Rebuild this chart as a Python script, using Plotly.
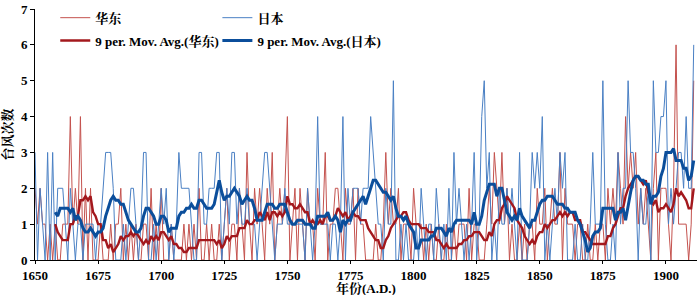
import plotly.graph_objects as go
import pandas as pd

years = list(range(1650, 1912))

# 华东 annual typhoon counts
huadong = (
    [2, 1, 2, 1, 1, 0, 1, 0, 1, 0] +
    [0, 1, 1, 1, 4, 1, 2, 1, 4, 0] +
    [2, 0, 2, 0, 0, 0, 1, 0, 0, 0] +
    [1, 0, 1, 1, 2, 0, 1, 0, 1, 0] +
    [1, 0, 0, 1, 1, 0, 2, 0, 1, 0] +
    [2, 0, 0, 0, 1, 0, 0, 0, 0, 1] +
    [0, 1, 0, 1, 0, 2, 0, 0, 1, 0] +
    [1, 0, 0, 1, 0, 1, 2, 0, 1, 1] +
    [0, 2, 1, 0, 3, 1, 0, 2, 1, 2] +
    [1, 0, 2, 1, 3, 0, 1, 2, 1, 2] +
    [4, 0, 1, 2, 0, 2, 1, 0, 2, 1] +
    [1, 0, 2, 1, 1, 3, 0, 1, 1, 2] +
    [2, 1, 0, 2, 1, 1, 2, 0, 2, 1] +
    [1, 0, 0, 0, 0, 1, 0, 0, 1, 3] +
    [1, 2, 1, 1, 2, 0, 1, 1, 1, 0] +
    [2, 1, 1, 1, 0, 1, 0, 1, 0, 0] +
    [1, 0, 0, 1, 0, 0, 1, 0, 1, 1] +
    [1, 0, 2, 0, 1, 1, 0, 0, 0, 1] +
    [2, 1, 3, 2, 1, 3, 1, 2, 0, 1] +
    [0, 0, 1, 0, 1, 0, 1, 1, 0, 2] +
    [1, 1, 2, 0, 1, 2, 1, 1, 3, 0] +
    [2, 1, 1, 1, 0, 1, 1, 0, 0, 1] +
    [0, 0, 1, 0, 1, 1, 0, 2, 1, 2] +
    [1, 3, 2, 1, 4, 2, 3, 2, 3, 1] +
    [2, 1, 2, 1, 0, 2, 3, 0, 2, 2] +
    [2, 1, 0, 2, 6, 1, 1, 1, 1, 0, 1, 5]
)

# 日本 annual typhoon counts
riben = (
    [3, 0, 2, 1, 0, 3, 0, 3, 0, 2] +
    [2, 2, 1, 0, 2, 1, 0, 1, 1, 0] +
    [1, 1, 1, 1, 0, 1, 1, 2, 3, 3] +
    [3, 2, 0, 0, 0, 1, 0, 1, 2, 2] +
    [1, 0, 1, 3, 3, 0, 0, 1, 0, 1] +
    [2, 1, 2, 0, 1, 0, 1, 3, 2, 2] +
    [2, 2, 1, 0, 0, 3, 3, 1, 1, 2] +
    [2, 2, 3, 3, 0, 1, 2, 1, 3, 3] +
    [1, 2, 1, 1, 2, 1, 1, 1, 0, 1] +
    [2, 3, 3, 2, 1, 0, 1, 1, 1, 2] +
    [1, 1, 1, 1, 1, 1, 1, 0, 2, 1] +
    [0, 1, 4, 1, 1, 1, 1, 0, 1, 1] +
    [0, 1, 4, 0, 2, 1, 2, 2, 2, 1] +
    [2, 2, 2, 4, 3, 2, 1, 1, 0, 2] +
    [1, 1, 5, 0, 0, 1, 0, 1, 0, 0] +
    [0, 1, 0, 2, 1, 0, 1, 1, 0, 2] +
    [1, 0, 1, 0, 2, 0, 3, 1, 2, 1] +
    [0, 1, 0, 1, 3, 0, 1, 4, 5, 2] +
    [3, 0, 1, 0, 2, 1, 1, 2, 1, 2] +
    [1, 0, 3, 0, 0, 0, 1, 3, 2, 3] +
    [2, 4, 0, 1, 0, 1, 2, 1, 3, 2] +
    [3, 0, 0, 0, 1, 0, 0, 1, 0, 0] +
    [1, 3, 1, 1, 1, 5, 1, 0, 0, 1] +
    [0, 3, 1, 2, 2, 5, 3, 3, 2, 0] +
    [2, 1, 1, 2, 0, 5, 3, 3, 4, 4] +
    [5, 1, 2, 1, 2, 3, 3, 2, 4, 2, 2, 6]
)

x_ticks = [1650, 1675, 1700, 1725, 1750, 1775, 1800, 1825, 1850, 1875, 1900]
y_ticks = [0, 1, 2, 3, 4, 5, 6, 7]
x_title = "年份(A.D.)"
y_title = "台风次数"

ma_window = 9
df = pd.DataFrame({"year": years, "huadong": huadong, "riben": riben})
df["ma_h"] = df["huadong"].rolling(ma_window).mean()
df["ma_r"] = df["riben"].rolling(ma_window).mean()

SERIF = "Liberation Serif, 'Noto Serif CJK SC', 'Noto Sans CJK SC', serif"

fig = go.Figure()
fig.add_trace(go.Scatter(x=df["year"], y=df["huadong"], mode="lines", name="华东",
                         line=dict(color="#c4524e", width=1), legend="legend", legendgroup="g1"))
fig.add_trace(go.Scatter(x=df["year"], y=df["riben"], mode="lines", name="日本",
                         line=dict(color="#4a80c4", width=1), legend="legend2", legendgroup="g2"))
fig.add_trace(go.Scatter(x=df["year"], y=df["ma_h"], mode="lines", name="9 per. Mov. Avg.(华东)",
                         line=dict(color="#a3181d", width=2.4), legend="legend", legendgroup="g3"))
fig.add_trace(go.Scatter(x=df["year"], y=df["ma_r"], mode="lines", name="9 per. Mov. Avg.(日本)",
                         line=dict(color="#0b4e9b", width=3), legend="legend2", legendgroup="g4"))

legend_common = dict(font=dict(family=SERIF, size=13, color="black", weight="bold"),
                     bgcolor="rgba(0,0,0,0)", borderwidth=0, tracegroupgap=3,
                     itemwidth=30, xanchor="left", yanchor="top")
fig.update_layout(
    width=700, height=295,
    margin=dict(l=35, r=3, t=7, b=35),
    plot_bgcolor="white", paper_bgcolor="white",
    font=dict(family=SERIF, color="black"),
    legend=dict(x=0.0306, y=1.025, **legend_common),
    legend2=dict(x=0.2755, y=1.025, **legend_common),
    xaxis=dict(range=[1650, 1912.3], tickvals=x_ticks, showline=True, linecolor="black",
               linewidth=1, ticks="outside", ticklen=3, tickcolor="black", showgrid=False,
               zeroline=False, automargin=False,
               tickfont=dict(family=SERIF, size=13, weight="bold")),
    yaxis=dict(range=[0, 7], tickvals=y_ticks, showline=True, linecolor="black",
               linewidth=1, ticks="outside", ticklen=4, tickcolor="black", showgrid=False,
               zeroline=False, automargin=False,
               tickfont=dict(family=SERIF, size=13, weight="bold"),
               title=dict(text=y_title, font=dict(family=SERIF, size=13, weight="bold"))),
    annotations=[dict(text=x_title, xref="paper", yref="paper", x=0.5, y=-0.113,
                      xanchor="center", yanchor="middle", showarrow=False,
                      font=dict(family=SERIF, size=13, weight="bold", color="black"))],
)

fig.write_html("out.html", config={"displayModeBar": False},
               post_script="document.body.style.margin='0';document.body.style.overflow='hidden';")
